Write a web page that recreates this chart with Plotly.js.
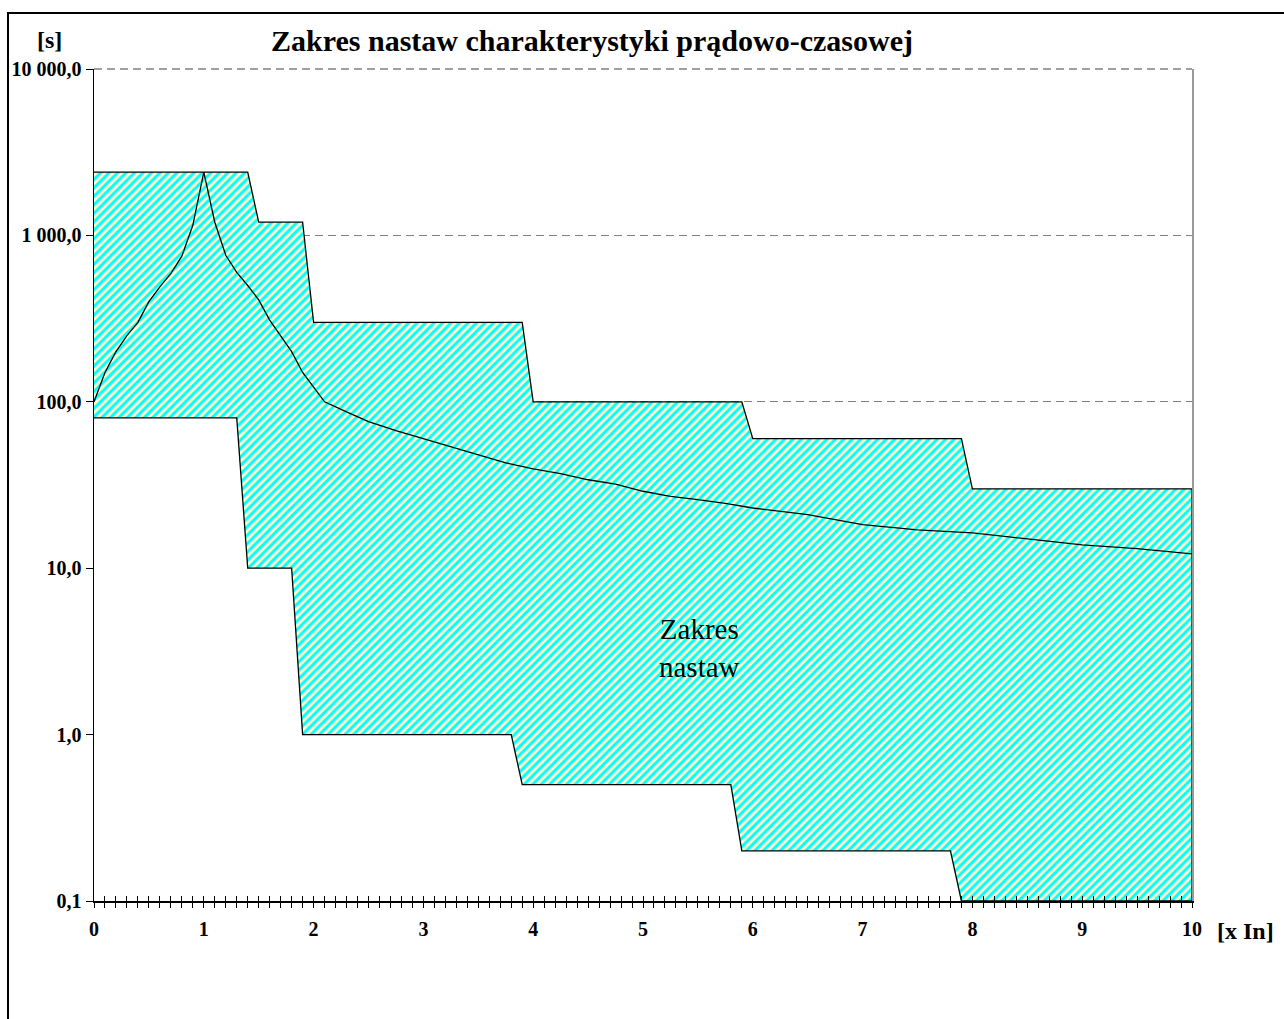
<!DOCTYPE html>
<html>
<head>
<meta charset="utf-8">
<script src="https://cdn.plot.ly/plotly-3.0.1.min.js"></script>
<style>
  html, body { margin: 0; padding: 0; background: #fff; }
  #frame { position: absolute; left: 7px; top: 12px; width: 1290px; height: 1020px;
           border-left: 2px solid #000; border-top: 2px solid #000; pointer-events: none; }
  #chart { position: absolute; left: 0; top: 0; width: 1284px; height: 1019px; }
</style>
</head>
<body>
<div id="chart"></div>
<div id="frame"></div>
<script>
// Upper boundary of the setting range
const upperX = [0, 1.4, 1.5, 1.9, 2.0, 3.9, 4.0, 5.9, 6.0, 7.9, 8.0, 10];
const upperY = [2400, 2400, 1200, 1200, 300, 300, 100, 100, 60, 60, 30, 30];
// Lower boundary of the setting range
const lowerX = [0, 1.3, 1.4, 1.8, 1.9, 3.8, 3.9, 5.8, 5.9, 7.8, 7.9, 10];
const lowerY = [80, 80, 10, 10, 1, 1, 0.5, 0.5, 0.2, 0.2, 0.1, 0.1];
// Example characteristic curve
const curveX = [0, 0.1, 0.2, 0.3, 0.4, 0.5, 0.6, 0.7, 0.8, 0.9, 1.0, 1.1, 1.2, 1.3, 1.4, 1.5, 1.6, 1.7, 1.8, 1.9, 2.0, 2.1,
                2.3, 2.5, 2.75, 3.0, 3.25, 3.5, 3.75, 4.0, 4.25, 4.5, 4.75, 5.0, 5.25, 5.5, 5.75, 6.0, 6.5, 7.0, 7.5, 8.0, 8.5, 9.0, 9.5, 10];
const curveY = [100, 150, 200, 250, 300, 400, 490, 590, 750, 1150, 2400, 1200, 760, 600, 500, 410, 310, 250, 200, 150, 122, 100,
                87, 76, 67, 60, 54, 48.5, 43, 39.5, 37, 34, 32, 29, 27, 25.8, 24.5, 23, 21, 18.3, 17, 16.3, 15, 13.8, 13.1, 12.2];
// Axis ticks
const yTickVals = [0.1, 1, 10, 100, 1000, 10000];
const yTickText = ['0,1', '1,0', '10,0', '100,0', '1 000,0', '10 000,0'];
const yGridVals = [100, 1000, 10000];
const xTickVals = [0, 1, 2, 3, 4, 5, 6, 7, 8, 9, 10];

const zoneX = upperX.concat(lowerX.slice().reverse());
const zoneY = upperY.concat(lowerY.slice().reverse());

const serif = 'Liberation Serif, Times New Roman, serif';

const traces = [
  {
    x: zoneX, y: zoneY, xaxis: 'x', yaxis: 'y',
    mode: 'lines', fill: 'toself',
    fillcolor: '#ffffcc',
    fillpattern: { shape: '/', fgcolor: '#00ffff', bgcolor: '#ffffcc', size: 6, solidity: 0.5 },
    line: { color: '#000', width: 1.3 },
    hoverinfo: 'skip', showlegend: false
  },
  {
    x: curveX, y: curveY, xaxis: 'x2', yaxis: 'y2',
    mode: 'lines', line: { color: '#000', width: 1.3 },
    hoverinfo: 'skip', showlegend: false
  }
];

const tickFont = { family: serif, size: 20, color: '#000', weight: 'bold' };
const gridDash = '8px,5px';

const layout = {
  width: 1284, height: 1019,
  margin: { l: 94, r: 92, t: 69, b: 118 },
  paper_bgcolor: '#fff', plot_bgcolor: 'rgba(0,0,0,0)',
  showlegend: false,
  title: {
    text: 'Zakres nastaw charakterystyki prądowo-czasowej',
    font: { family: serif, size: 30, color: '#000', weight: 'bold' },
    xref: 'paper', x: (592 - 94) / 1098, xanchor: 'center',
    yref: 'container', y: 1 - 40 / 1019, yanchor: 'middle'
  },
  xaxis: {
    range: [0, 10], tickvals: xTickVals, ticktext: xTickVals.map(String),
    ticks: 'outside', ticklen: 5, tickwidth: 1, tickcolor: '#000',
    minor: { dtick: 0.1, tick0: 0, ticks: 'outside', ticklen: 5, tickwidth: 1, tickcolor: '#000', showgrid: false },
    showline: true, linecolor: '#000', linewidth: 1.5, ticklabelstandoff: 4,
    showgrid: false, zeroline: false, tickfont: tickFont, fixedrange: true
  },
  xaxis2: {
    overlaying: 'x', anchor: 'y', range: [0, 10],
    dtick: 0.1, tick0: 0, ticks: 'inside', ticklen: 5, tickwidth: 1, tickcolor: '#000',
    showticklabels: false, showline: false, showgrid: false, zeroline: false, fixedrange: true
  },
  yaxis: {
    type: 'log', range: [-1, 4], tickvals: yTickVals, ticktext: yTickText,
    ticks: 'outside', ticklen: 7, tickwidth: 1, tickcolor: '#000',
    showline: true, linecolor: '#000', linewidth: 1.5,
    showgrid: false, zeroline: false, tickfont: tickFont, fixedrange: true
  },
  yaxis2: {
    type: 'log', range: [-1, 4], overlaying: 'y', side: 'right', anchor: 'x',
    tickvals: yGridVals, showticklabels: false, ticks: '',
    showgrid: true, gridcolor: '#808080', gridwidth: 1, griddash: gridDash,
    showline: true, linecolor: '#999', linewidth: 1.5, zeroline: false, fixedrange: true
  },
  shapes: [
    { type: 'line', xref: 'paper', yref: 'paper', x0: 0, x1: 1, y0: 1, y1: 1,
      line: { color: '#808080', width: 1.5, dash: gridDash }, layer: 'below' }
  ],
  annotations: [
    { text: '[s]', xref: 'paper', yref: 'paper', x: (49 - 94) / 1098, y: 1 - (40 - 69) / 832,
      xanchor: 'center', yanchor: 'middle', showarrow: false,
      font: { family: serif, size: 24, color: '#000', weight: 'bold' } },
    { text: '[x In]', xref: 'paper', yref: 'paper', x: (1245 - 94) / 1098, y: 1 - (931 - 69) / 832,
      xanchor: 'center', yanchor: 'middle', showarrow: false,
      font: { family: serif, size: 24, color: '#000', weight: 'bold' } },
    { text: 'Zakres<br>nastaw', xref: 'paper', yref: 'paper', x: (700 - 94) / 1098, y: 1 - (648 - 69) / 832,
      xanchor: 'center', yanchor: 'middle', showarrow: false, align: 'center',
      font: { family: serif, size: 29, color: '#000' } }
  ]
};

Plotly.newPlot('chart', traces, layout, { staticPlot: true, displayModeBar: false });
</script>
</body>
</html>
